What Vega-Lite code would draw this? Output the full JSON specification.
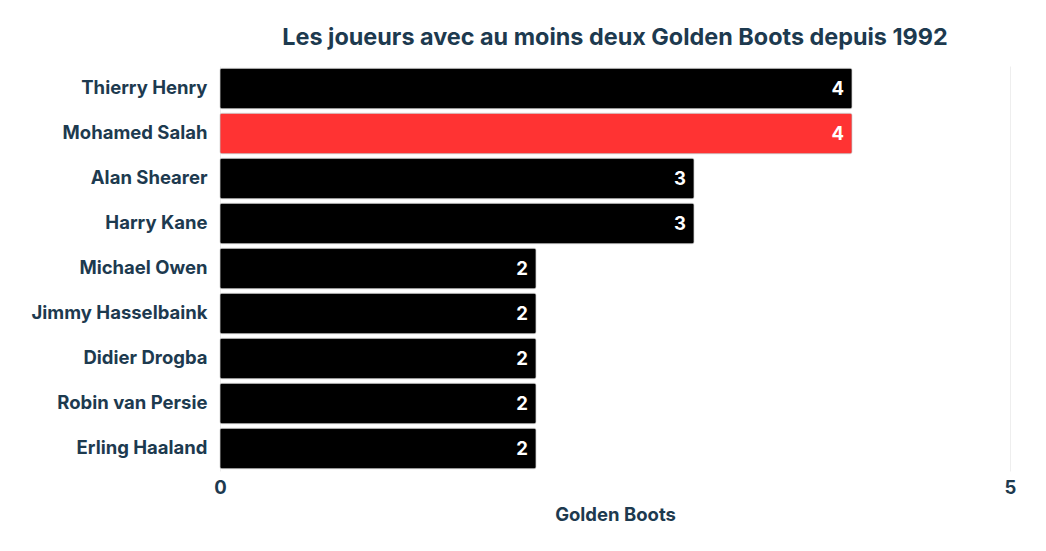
{
  "$schema": "https://vega.github.io/schema/vega-lite/v6.json",
  "width": 790,
  "height": 405,
  "autosize": "none",
  "padding": {"left": 220, "top": 66, "right": 36, "bottom": 80},
  "background": "white",
  "title": {
    "text": "Les joueurs avec au moins deux Golden Boots depuis 1992",
    "font": "Inter",
    "fontSize": 23.4,
    "fontWeight": "bold",
    "color": "#1d3a4f",
    "anchor": "middle",
    "offset": 16
  },
  "config": {"view": {"stroke": null}, "font": "Inter"},
  "data": {
    "values": [
      {"player": "Thierry Henry", "boots": 4, "salah": "no"},
      {"player": "Mohamed Salah", "boots": 4, "salah": "yes"},
      {"player": "Alan Shearer", "boots": 3, "salah": "no"},
      {"player": "Harry Kane", "boots": 3, "salah": "no"},
      {"player": "Michael Owen", "boots": 2, "salah": "no"},
      {"player": "Jimmy Hasselbaink", "boots": 2, "salah": "no"},
      {"player": "Didier Drogba", "boots": 2, "salah": "no"},
      {"player": "Robin van Persie", "boots": 2, "salah": "no"},
      {"player": "Erling Haaland", "boots": 2, "salah": "no"}
    ]
  },
  "encoding": {
    "y": {
      "field": "player",
      "type": "nominal",
      "sort": null,
      "scale": {"paddingInner": 0.1, "paddingOuter": 0.05},
      "axis": {
        "title": null,
        "domain": false,
        "ticks": false,
        "labelFont": "Inter",
        "labelFontSize": 18.5,
        "labelFontWeight": "bold",
        "labelColor": "#1d3a4f",
        "labelPadding": 13,
        "labelOffset": -1
      }
    },
    "x": {
      "field": "boots",
      "type": "quantitative",
      "scale": {"domain": [0, 5]},
      "axis": {
        "title": "Golden Boots",
        "values": [0, 5],
        "domain": false,
        "ticks": false,
        "grid": true,
        "gridColor": "#eeeeee",
        "labelFlush": false,
        "labelAlign": "center",
        "labelFont": "Inter",
        "labelFontSize": 18.5,
        "labelFontWeight": "bold",
        "labelColor": "#1d3a4f",
        "labelPadding": 7,
        "titleFont": "Inter",
        "titleFontSize": 18.5,
        "titleFontWeight": "bold",
        "titleColor": "#1d3a4f",
        "titlePadding": 9
      }
    }
  },
  "layer": [
    {
      "mark": {"type": "bar", "cornerRadius": 2, "stroke": "#bbbbbb", "strokeWidth": 0.5},
      "encoding": {
        "color": {
          "field": "salah",
          "type": "nominal",
          "scale": {"domain": ["no", "yes"], "range": ["#000000", "#ff3333"]},
          "legend": null
        }
      }
    },
    {
      "mark": {"type": "text", "align": "right", "dx": -8, "color": "white", "font": "Inter", "fontSize": 18.5, "fontWeight": "bold", "baseline": "middle"},
      "encoding": {"text": {"field": "boots", "type": "quantitative"}}
    }
  ]
}
